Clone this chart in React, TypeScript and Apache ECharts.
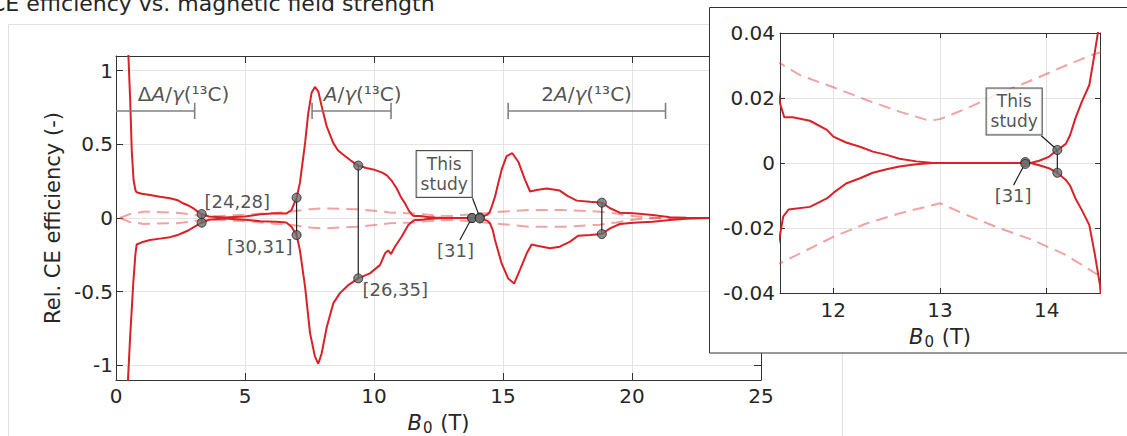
import React, { useEffect, useRef } from "react";
import * as echarts from "echarts";

const FONT = "DejaVu Sans";
const TEXT = "#262626";
const AXIS = "#333333";
const GRID = "#e4e4e4";
const RED = "#d92128";
const PINK = "rgba(228, 70, 70, 0.5)";

const titleText = "CE efficiency vs. magnetic field strength";
const yAxisTitle = "Rel. CE efficiency (-)";

const yTicksMain = [-1, -0.5, 0, 0.5, 1];
const xTicksInset = [12, 13, 14];

// CE efficiency, upper (positive) branch: [B0 (T), value]
const solidUpper: number[][] = [
  [0.47, 1.15], [0.55, 0.8], [0.61, 0.46], [0.68, 0.26], [0.75, 0.19], [0.8, 0.175], [1.0, 0.165],
  [1.32, 0.156], [1.7, 0.145], [2.09, 0.134], [2.4, 0.12], [2.6, 0.1], [2.8, 0.085], [3.0, 0.066],
  [3.15, 0.045], [3.32, 0.027], [3.6, 0.01], [4.2, 0.003], [5.0, 0.01], [5.6, 0.025], [6.2, 0.032],
  [6.6, 0.03], [6.8, 0.054], [7.0, 0.138], [7.13, 0.24], [7.33, 0.51], [7.45, 0.71], [7.58, 0.85],
  [7.71, 0.89], [7.84, 0.86], [7.97, 0.76], [8.17, 0.62], [8.42, 0.51], [8.6, 0.46], [8.81, 0.43],
  [9.1, 0.39], [9.39, 0.356], [9.7, 0.34], [9.97, 0.33], [10.3, 0.31], [10.5, 0.29], [10.7, 0.25],
  [10.88, 0.2], [11.05, 0.14], [11.2, 0.1], [11.35, 0.05], [11.5, 0.0184], [11.54, 0.0141],
  [11.62, 0.0141], [11.78, 0.013], [11.94, 0.0102], [12.0, 0.0081], [12.12, 0.0063], [12.25, 0.005],
  [12.37, 0.0035], [12.5, 0.0025], [12.62, 0.0013], [12.78, 0.0005], [12.93, 0], [13.85, 0],
  [13.93, 0.0007], [14.02, 0.0019], [14.1, 0.004], [14.18, 0.0059], [14.22, 0.0086], [14.27, 0.0138],
  [14.33, 0.0189], [14.4, 0.024], [14.45, 0.0338], [14.48, 0.04], [14.55, 0.07], [14.69, 0.145],
  [14.82, 0.24], [14.95, 0.33], [15.14, 0.42], [15.36, 0.44], [15.6, 0.38], [15.85, 0.26],
  [16.05, 0.18], [16.3, 0.19], [16.7, 0.2], [17.2, 0.186], [17.5, 0.15], [17.86, 0.118],
  [18.37, 0.11], [18.83, 0.104], [19.15, 0.066], [19.53, 0.036], [20.05, 0.032], [20.8, 0.02],
  [21.47, 0.005], [22.1, 0.001], [23, 0], [25, 0],
];

// CE efficiency, lower (negative) branch
const solidLower: number[][] = [
  [0.45, -1.15], [0.55, -0.8], [0.67, -0.44], [0.75, -0.25], [0.8, -0.18], [1.0, -0.165],
  [1.32, -0.15], [1.7, -0.14], [2.09, -0.13], [2.4, -0.115], [2.6, -0.1], [2.8, -0.085],
  [3.0, -0.063], [3.15, -0.048], [3.32, -0.032], [3.6, -0.012], [4.2, -0.004], [5.0, -0.012],
  [5.6, -0.022], [6.2, -0.025], [6.6, -0.03], [6.8, -0.059], [7.0, -0.116], [7.13, -0.22],
  [7.33, -0.47], [7.52, -0.78], [7.71, -0.94], [7.84, -0.99], [7.97, -0.92], [8.17, -0.74],
  [8.42, -0.58], [8.68, -0.51], [9.0, -0.456], [9.39, -0.41], [9.84, -0.376], [10.23, -0.32],
  [10.43, -0.24], [10.55, -0.22], [10.66, -0.245], [10.81, -0.195], [11.07, -0.127], [11.33, -0.048],
  [11.5, -0.0222], [11.53, -0.0165], [11.58, -0.0143], [11.78, -0.0135], [11.94, -0.0109],
  [12.0, -0.0092], [12.12, -0.0063], [12.25, -0.0047], [12.37, -0.003], [12.5, -0.0019],
  [12.62, -0.0011], [12.78, -0.0004], [12.93, 0], [13.85, 0], [13.93, -0.0007], [14.02, -0.0016],
  [14.1, -0.003], [14.18, -0.0052], [14.22, -0.007], [14.27, -0.0109], [14.33, -0.0145],
  [14.4, -0.0191], [14.45, -0.0278], [14.5, -0.0376], [14.6, -0.08], [14.69, -0.15], [14.95, -0.31],
  [15.2, -0.41], [15.43, -0.445], [15.66, -0.35], [15.92, -0.24], [16.11, -0.18], [16.37, -0.19],
  [16.82, -0.206], [17.2, -0.195], [17.6, -0.16], [17.92, -0.12], [18.37, -0.116], [18.83, -0.109],
  [19.15, -0.07], [19.53, -0.041], [20.05, -0.032], [20.8, -0.025], [21.47, -0.014], [22.1, -0.005],
  [23, 0], [25, 0],
];

// reference (dashed) envelope
const dashedUpper: number[][] = [
  [0.15, 0], [0.5, 0.025], [1.06, 0.043], [2.35, 0.036], [2.9, 0.025], [3.3, 0.012], [3.8, 0.012],
  [4.5, 0.018], [5.3, 0.026], [6.23, 0.036], [6.74, 0.043], [7.52, 0.06], [8.03, 0.066], [9.33, 0.06],
  [10.0, 0.05], [10.6, 0.038], [11.0, 0.034], [11.5, 0.0307], [11.69, 0.027], [12.0, 0.0233],
  [12.31, 0.0194], [12.62, 0.0158], [12.9, 0.013], [13.0, 0.0135], [13.25, 0.0168], [13.56, 0.0215],
  [13.87, 0.0256], [14.18, 0.03], [14.43, 0.0333], [14.5, 0.034], [14.88, 0.043], [16.05, 0.054],
  [17.34, 0.054], [18.76, 0.043], [19.4, 0.03], [19.9, 0.016], [20.4, 0.006], [21.0, 0], [25, 0],
];
const dashedLower: number[][] = [
  [0.15, 0], [0.5, -0.025], [1.06, -0.04], [2.35, -0.035], [2.9, -0.025], [3.3, -0.012], [3.8, -0.012],
  [4.5, -0.018], [5.3, -0.026], [6.23, -0.04], [6.74, -0.045], [7.52, -0.065], [8.03, -0.07],
  [9.33, -0.06], [10.0, -0.048], [10.6, -0.036], [11.0, -0.033], [11.5, -0.0309], [12.0, -0.0227],
  [12.31, -0.0186], [12.62, -0.0155], [13.0, -0.0124], [13.25, -0.016], [13.56, -0.0201],
  [13.87, -0.0237], [14.18, -0.0283], [14.46, -0.034], [14.88, -0.04], [16.05, -0.06], [17.34, -0.06],
  [18.76, -0.045], [19.4, -0.03], [19.9, -0.014], [20.4, -0.005], [21.0, 0], [25, 0],
];

// literature points ([24,28], [30,31], [26,35], [31], unlabelled) and this study
const refB0 = [3.32, 7.0, 9.39, 13.8, 18.83];
const refHigh = [0.027, 0.138, 0.356, 0.0003, 0.104];
const refLow = [-0.032, -0.116, -0.41, -0.0003, -0.109];
const studyB0 = 14.1;
const studyHigh = 0.004;
const studyLow = -0.003;

// hyperfine ranges
const rangeStart = [0, 7.6, 15.2];
const rangeEnd = [3.05, 10.66, 21.3];
const rangeLevel = 0.727;
const rangeNames = [
  "{r|Δ}{i|A}{r|/}{i|γ}{r|(¹³C)}",
  "{i|A}{r|/}{i|γ}{r|(¹³C)}",
  "{r|2}{i|A}{r|/}{i|γ}{r|(¹³C)}",
];

// annotation layout (data coordinates)
const rangeLabelX = [2.64, 9.58, 18.26];
const rangeLabelY = 0.837;
const rangeCap = 0.055;
const mainNotes = [
  { text: "[24,28]", at: [3.45, 0.11], align: "left" },
  { text: "[30,31]", at: [6.86, -0.2], align: "right" },
  { text: "[26,35]", at: [9.57, -0.49], align: "left" },
  { text: "[31]", at: [13.18, -0.225], align: "center" },
];
const mainBoxAt = [12.74, 0.295];
const mainLeaders = [
  [[13.33, -0.15], [13.79, 0]],
  [[13.82, 0.134], [14.1, 0.004]],
];
const insetBoxAt = [13.7, 0.0157];
const insetNoteAt = [13.69, -0.0102];
const insetLeaders = [
  [[13.95, 0.0084], [14.1, 0.004]],
  [[13.69, -0.0068], [13.8, 0]],
];

const xName = "{b|B}{s|0}{t| (T)}";
const xNameRich = {
  b: { fontStyle: "italic", fontSize: 21, fontFamily: FONT, color: TEXT, lineHeight: 22 },
  s: { fontSize: 15, fontFamily: FONT, color: TEXT, lineHeight: 15, padding: [10, 1, 0, 1] },
  t: { fontSize: 21, fontFamily: FONT, color: TEXT, lineHeight: 22 },
};

function axisBase(extra: any) {
  return {
    type: "value",
    axisLine: { show: true, onZero: false, lineStyle: { color: AXIS, width: 1 } },
    axisTick: { show: true, inside: true, length: 7, lineStyle: { color: AXIS } },
    axisLabel: { show: false },
    splitLine: { show: false },
    ...extra,
  };
}

function lineS(data: any, xi: number, yi: number, z: number, lineStyle: any) {
  return {
    type: "line",
    data,
    xAxisIndex: xi,
    yAxisIndex: yi,
    z,
    symbol: "none",
    showSymbol: false,
    silent: true,
    clip: true,
    lineStyle,
  };
}

function buildOption() {
  const series: any[] = [];
  const solid = { color: RED, width: 2 };
  const dashed = { color: PINK, width: 2, type: [12, 7] };
  const blackLine = { color: "#1f1f1f", width: 1.2 };
  const barLine = { color: "#808080", width: 1.6 };

  // main plot curves
  series.push(lineS(dashedUpper, 0, 0, 2, dashed));
  series.push(lineS(dashedLower, 0, 0, 2, dashed));
  series.push(lineS(solidUpper, 0, 0, 3, solid));
  series.push(lineS(solidLower, 0, 0, 3, solid));

  // range bars
  rangeStart.forEach((s, i) => {
    const e = rangeEnd[i];
    series.push(lineS([[s, rangeLevel], [e, rangeLevel]], 0, 0, 4, barLine));
    series.push(lineS([[e, rangeLevel - rangeCap], [e, rangeLevel + rangeCap]], 0, 0, 4, barLine));
    if (s > 0) series.push(lineS([[s, rangeLevel - rangeCap], [s, rangeLevel + rangeCap]], 0, 0, 4, barLine));
  });
  series.push({
    type: "scatter",
    xAxisIndex: 0,
    yAxisIndex: 0,
    z: 5,
    silent: true,
    symbolSize: 1,
    itemStyle: { color: "rgba(0,0,0,0)" },
    label: {
      show: true,
      position: [0, 0],
      align: "center",
      verticalAlign: "middle",
      rich: {
        r: { fontSize: 20, fontFamily: FONT, color: TEXT },
        i: { fontSize: 20, fontFamily: FONT, color: TEXT, fontStyle: "italic" },
      },
    },
    data: rangeNames.map((n, i) => ({ value: [rangeLabelX[i], rangeLabelY], label: { formatter: n } })),
  });

  // connectors & leaders (main)
  refB0.forEach((b, i) => series.push(lineS([[b, refHigh[i]], [b, refLow[i]]], 0, 0, 6, blackLine)));
  series.push(lineS([[studyB0, studyHigh], [studyB0, studyLow]], 0, 0, 6, blackLine));
  mainLeaders.forEach((l) => series.push(lineS(l, 0, 0, 6, blackLine)));

  const markerStyle = { color: "#6e6e6e", borderColor: "#1f1f1f", borderWidth: 1 };
  const markerData = [
    ...refB0.map((b, i) => [b, refHigh[i]]),
    ...refB0.map((b, i) => [b, refLow[i]]),
    [studyB0, studyHigh],
    [studyB0, studyLow],
  ];
  series.push({
    type: "scatter",
    xAxisIndex: 0,
    yAxisIndex: 0,
    z: 8,
    silent: true,
    symbol: "circle",
    symbolSize: 9,
    itemStyle: markerStyle,
    data: markerData,
  });

  const noteLabel = { fontSize: 18, fontFamily: FONT, color: TEXT };
  const boxLabel = {
    show: true,
    position: [0, 0],
    align: "center",
    verticalAlign: "middle",
    formatter: "This\nstudy",
    fontSize: 17,
    lineHeight: 20,
    fontFamily: FONT,
    color: TEXT,
    backgroundColor: "#ffffff",
    borderColor: "#1f1f1f",
    borderWidth: 1,
    padding: [3, 4, 3, 4],
  };
  series.push({
    type: "scatter",
    xAxisIndex: 0,
    yAxisIndex: 0,
    z: 9,
    silent: true,
    symbolSize: 1,
    itemStyle: { color: "rgba(0,0,0,0)" },
    data: [
      ...mainNotes.map((n) => ({
        value: n.at,
        label: { show: true, formatter: n.text, position: [0, 0], align: n.align, verticalAlign: "middle", ...noteLabel },
      })),
      { value: mainBoxAt, label: boxLabel },
    ],
  });

  // inset
  series.push(lineS(dashedUpper, 2, 2, 20, dashed));
  series.push(lineS(dashedLower, 2, 2, 20, dashed));
  series.push(lineS(solidUpper, 2, 2, 21, solid));
  series.push(lineS(solidLower, 2, 2, 21, solid));
  series.push(lineS([[studyB0, studyHigh], [studyB0, studyLow]], 2, 2, 22, blackLine));
  insetLeaders.forEach((l) => series.push(lineS(l, 2, 2, 22, blackLine)));
  series.push({
    type: "scatter",
    xAxisIndex: 2,
    yAxisIndex: 2,
    z: 23,
    silent: true,
    symbol: "circle",
    symbolSize: 9,
    itemStyle: markerStyle,
    data: [
      [refB0[3], refHigh[3]],
      [refB0[3], refLow[3]],
      [studyB0, studyHigh],
      [studyB0, studyLow],
    ],
  });
  series.push({
    type: "scatter",
    xAxisIndex: 2,
    yAxisIndex: 2,
    z: 24,
    silent: true,
    symbolSize: 1,
    itemStyle: { color: "rgba(0,0,0,0)" },
    data: [
      { value: insetBoxAt, label: boxLabel },
      {
        value: insetNoteAt,
        label: { show: true, formatter: "[31]", position: [0, 0], align: "center", verticalAlign: "middle", ...noteLabel },
      },
    ],
  });

  const tickLabel = { show: true, fontSize: 20, fontFamily: FONT, color: TEXT };

  return {
    animation: false,
    backgroundColor: "#ffffff",
    grid: [
      { left: 116, top: 56, width: 645, height: 324, containLabel: false, outerBoundsMode: "none" },
      { left: 780, top: 33, width: 320, height: 260, containLabel: false, outerBoundsMode: "none" },
    ],
    xAxis: [
      axisBase({
        gridIndex: 0,
        position: "bottom",
        min: 0,
        max: 25,
        interval: 5,
        axisLabel: { ...tickLabel, margin: 6 },
        splitLine: { show: true, lineStyle: { color: GRID, width: 1 } },
        name: xName,
        nameLocation: "middle",
        nameGap: 25,
        nameTextStyle: { rich: xNameRich },
      }),
      axisBase({ gridIndex: 0, position: "top", min: 0, max: 25, interval: 5 }),
      axisBase({
        gridIndex: 1,
        position: "bottom",
        min: 11.5,
        max: 14.5,
        z: 12,
        axisTick: { show: true, inside: true, length: 5, lineStyle: { color: AXIS }, customValues: xTicksInset },
        axisLabel: { ...tickLabel, margin: 7, customValues: xTicksInset },
        splitLine: { show: true, lineStyle: { color: GRID, width: 1 } },
        name: xName,
        nameLocation: "middle",
        nameGap: 26,
        nameTextStyle: { rich: xNameRich },
      }),
      axisBase({
        gridIndex: 1,
        position: "top",
        min: 11.5,
        max: 14.5,
        z: 12,
        axisTick: { show: true, inside: true, length: 5, lineStyle: { color: AXIS }, customValues: xTicksInset },
      }),
    ],
    yAxis: [
      axisBase({
        gridIndex: 0,
        position: "left",
        min: -1.1,
        max: 1.1,
        axisTick: { show: true, inside: true, length: 7, lineStyle: { color: AXIS }, customValues: yTicksMain },
        axisLabel: { ...tickLabel, margin: 3, customValues: yTicksMain, formatter: (v: number) => String(v) },
        splitLine: { show: true, lineStyle: { color: GRID, width: 1 } },
        name: yAxisTitle,
        nameLocation: "middle",
        nameRotate: 90,
        nameGap: 39,
        nameTextStyle: { fontSize: 21, fontFamily: FONT, color: TEXT },
      }),
      axisBase({
        gridIndex: 0,
        position: "right",
        min: -1.1,
        max: 1.1,
        axisTick: { show: true, inside: true, length: 7, lineStyle: { color: AXIS }, customValues: yTicksMain },
      }),
      axisBase({
        gridIndex: 1,
        position: "left",
        min: -0.04,
        max: 0.04,
        interval: 0.02,
        z: 12,
        axisTick: { show: true, inside: true, length: 5, lineStyle: { color: AXIS } },
        axisLabel: { ...tickLabel, margin: 5, formatter: (v: number) => (Math.abs(v) < 1e-9 ? "0" : v.toFixed(2)) },
        splitLine: { show: true, lineStyle: { color: GRID, width: 1 } },
      }),
      axisBase({
        gridIndex: 1,
        position: "right",
        min: -0.04,
        max: 0.04,
        interval: 0.02,
        z: 12,
        axisTick: { show: true, inside: true, length: 5, lineStyle: { color: AXIS } },
      }),
    ],
    graphic: [
      {
        type: "text",
        x: -10,
        y: 3.4,
        z: 1,
        silent: true,
        style: { text: titleText, fontSize: 22, fontFamily: FONT, fill: TEXT, verticalAlign: "middle", align: "left" },
      },
      {
        type: "rect",
        z: 0,
        silent: true,
        shape: { x: 8.5, y: 24.5, width: 834, height: 450 },
        style: { fill: "none", stroke: "#e0e0e0", lineWidth: 1 },
      },
      {
        type: "rect",
        z: 10,
        silent: true,
        shape: { x: 709.5, y: 7.5, width: 440, height: 345.5 },
        style: { fill: "#ffffff", stroke: "#333333", lineWidth: 1 },
      },
    ],
    series,
  };
}

export default function App() {
  const ref = useRef<HTMLDivElement>(null);
  useEffect(() => {
    const chart = echarts.init(ref.current!, undefined, { renderer: "svg" });
    chart.setOption(buildOption() as any);
    return () => chart.dispose();
  }, []);
  return (
    <div
      ref={ref}
      style={{ position: "absolute", left: 0, top: 0, width: 1127, height: 436 }}
    />
  );
}
